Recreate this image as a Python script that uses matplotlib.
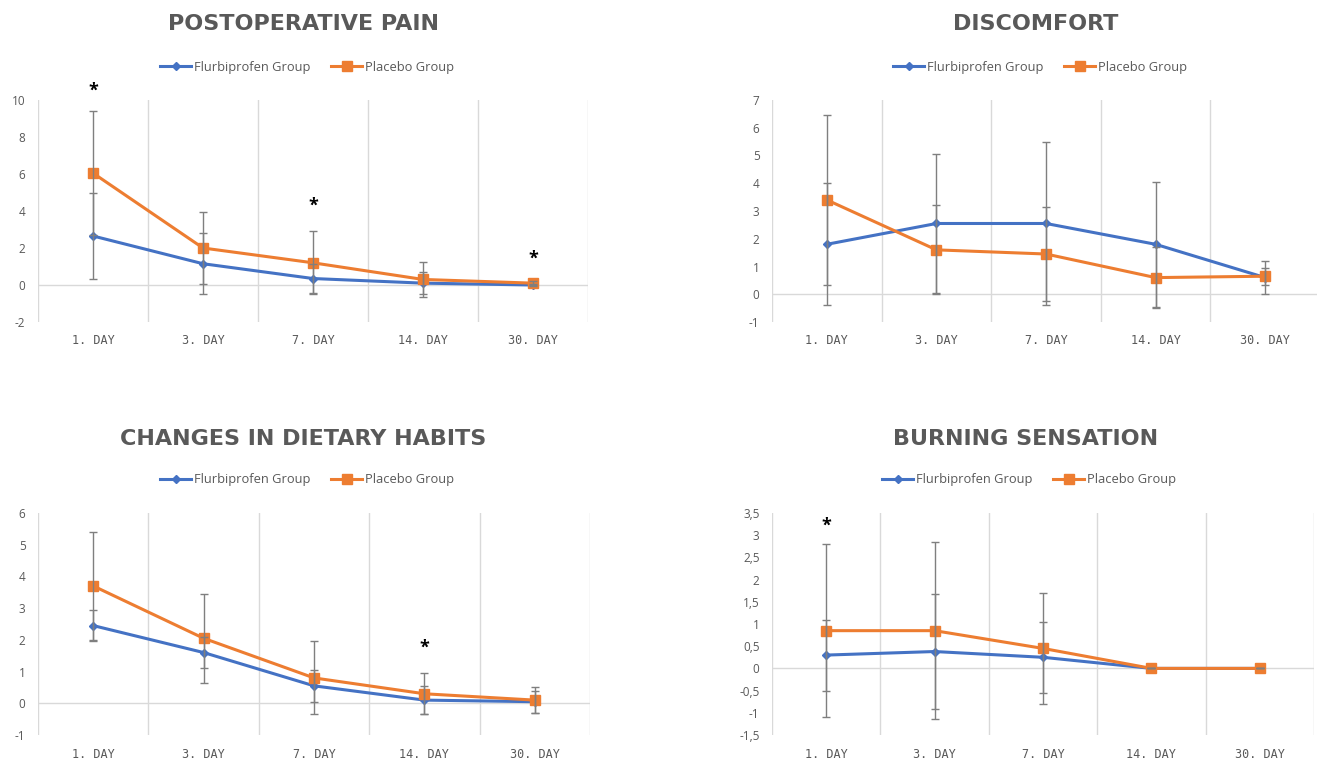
import numpy as np
import matplotlib
matplotlib.use("Agg")
import matplotlib.pyplot as plt

plt.rcParams['font.family'] = ['Open Sans', 'DejaVu Sans']

days = ["1. DAY", "3. DAY", "7. DAY", "14. DAY", "30. DAY"]

# postoperative pain
pain_flu = [2.65, 1.15, 0.35, 0.1, 0.0]
pain_flu_sd = [2.35, 1.65, 0.8, 0.6, 0.05]
pain_pla = [6.05, 2.0, 1.2, 0.3, 0.1]
pain_pla_sd = [3.35, 1.95, 1.7, 0.95, 0.1]
pain_star = [(0, 10.5), (2, 4.3), (4, 1.4)]

# discomfort
disc_flu = [1.8, 2.55, 2.55, 1.8, 0.6]
disc_flu_sd = [2.2, 2.5, 2.95, 2.25, 0.6]
disc_pla = [3.4, 1.6, 1.45, 0.6, 0.65]
disc_pla_sd = [3.05, 1.6, 1.7, 1.1, 0.3]
disc_star = []

# changes in dietary habits
diet_flu = [2.45, 1.6, 0.55, 0.1, 0.05]
diet_flu_sd = [0.5, 0.5, 0.5, 0.45, 0.35]
diet_pla = [3.7, 2.05, 0.8, 0.3, 0.1]
diet_pla_sd = [1.7, 1.4, 1.15, 0.65, 0.4]
diet_star = [(3, 1.75)]

# burning sensation
burn_flu = [0.3, 0.38, 0.25, 0.0, 0.0]
burn_flu_sd = [0.8, 1.3, 0.8, 0.0, 0.0]
burn_pla = [0.85, 0.85, 0.45, 0.0, 0.0]
burn_pla_sd = [1.95, 2.0, 1.25, 0.0, 0.0]
burn_star = [(0, 3.22)]

W, H = 1317, 760
fig = plt.figure(figsize=(W / 100, H / 100), dpi=100)

BLUE = '#4472C4'
ORANGE = '#ED7D31'
GREY = '#595959'


def panel(box, title, title_xy, leg_xy, flu, flu_sd, pla, pla_sd, stars, ylim, yticks, ylabels):
    left, top, right, bottom = box
    ax = fig.add_axes([left / W, 1 - bottom / H, (right - left) / W, (bottom - top) / H])
    x = np.arange(len(days))
    ax.errorbar(x, flu, yerr=flu_sd, fmt='none', ecolor='#7f7f7f', elinewidth=1, capsize=3, zorder=4)
    ax.errorbar(x, pla, yerr=pla_sd, fmt='none', ecolor='#7f7f7f', elinewidth=1, capsize=3, zorder=4)
    ax.plot(x, flu, color=BLUE, lw=2.2, marker='D', ms=4, label='Flurbiprofen Group', zorder=3)
    ax.plot(x, pla, color=ORANGE, lw=2.2, marker='s', ms=7, label='Placebo Group', zorder=3)
    for xi, yi in stars:
        ax.text(xi, yi, '*', ha='center', va='center', fontsize=13, fontweight='bold', color='black')
    ax.set_xlim(-0.5, len(days) - 0.5)
    ax.set_ylim(*ylim)
    for b in np.arange(-0.5, len(days), 1.0):
        ax.axvline(b, color='#d9d9d9', lw=1, zorder=0)
    ax.axhline(0, color='#d9d9d9', lw=1, zorder=0)
    for s in ax.spines.values():
        s.set_visible(False)
    ax.set_xticks(x)
    ax.set_xticklabels(days, family='DejaVu Sans Mono', fontsize=8.5)
    ax.set_yticks(yticks)
    ax.set_yticklabels(ylabels)
    ax.tick_params(axis='both', length=0, labelsize=8.5, labelcolor=GREY)
    ax.tick_params(axis='x', pad=9)
    ax.tick_params(axis='y', pad=9)
    fig.text(title_xy[0] / W, 1 - title_xy[1] / H, title, ha='center', va='center',
             fontsize=16, fontweight='bold', color=GREY, family='DejaVu Sans')
    ax.legend(loc='center', bbox_to_anchor=(leg_xy[0] / W, 1 - leg_xy[1] / H),
              bbox_transform=fig.transFigure, ncol=2, frameon=False, fontsize=9.3,
              labelcolor=GREY, handlelength=2.4, handletextpad=0.2, columnspacing=1.6)
    return ax


panel((38, 100, 588, 322), 'POSTOPERATIVE PAIN', (303, 24), (307, 67),
      pain_flu, pain_flu_sd, pain_pla, pain_pla_sd, pain_star,
      (-2, 10), list(range(-2, 11, 2)), [str(v) for v in range(-2, 11, 2)])

panel((772, 100, 1320, 322), 'DISCOMFORT', (1036, 24), (1040, 67),
      disc_flu, disc_flu_sd, disc_pla, disc_pla_sd, disc_star,
      (-1, 7), list(range(-1, 8)), [str(v) for v in range(-1, 8)])

panel((38, 513, 590, 735), 'CHANGES IN DIETARY HABITS', (303, 439), (307, 480),
      diet_flu, diet_flu_sd, diet_pla, diet_pla_sd, diet_star,
      (-1, 6), list(range(-1, 7)), [str(v) for v in range(-1, 7)])

burn_ticks = [-1.5, -1, -0.5, 0, 0.5, 1, 1.5, 2, 2.5, 3, 3.5]
burn_labels = [('%g' % v).replace('.', ',') for v in burn_ticks]
panel((772, 513, 1314, 735), 'BURNING SENSATION', (1026, 439), (1029, 480),
      burn_flu, burn_flu_sd, burn_pla, burn_pla_sd, burn_star,
      (-1.5, 3.5), burn_ticks, burn_labels)

fig.savefig('out.png', dpi=100)
